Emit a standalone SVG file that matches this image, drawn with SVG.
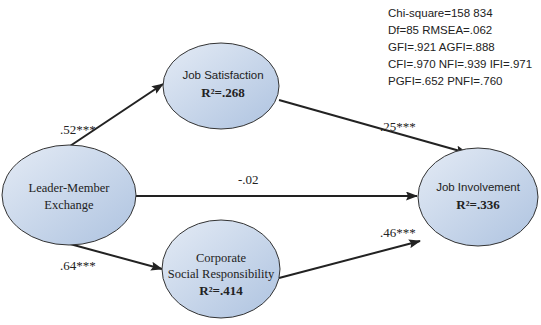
<svg xmlns="http://www.w3.org/2000/svg" width="541" height="325" viewBox="0 0 541 325">
<defs>
<linearGradient id="g" x1="0" y1="0" x2="1" y2="1">
<stop offset="0" stop-color="#e4ebf5"/>
<stop offset="1" stop-color="#aec3e0"/>
</linearGradient>
<marker id="ah" markerWidth="12" markerHeight="9" refX="11" refY="4.5" orient="auto" markerUnits="userSpaceOnUse">
<path d="M0,0 L12,4.5 L0,9 L2,4.5 Z" fill="#222"/>
</marker>
<style>
ellipse{fill:url(#g);stroke:#333;stroke-width:1}
.s{font-family:"Liberation Sans",Arial,sans-serif;font-size:11.5px;fill:#222}
.n{font-family:"Liberation Serif","Times New Roman",serif;font-size:12.5px;fill:#222;text-anchor:middle}
.ns{font-family:"Liberation Sans",Arial,sans-serif;font-size:11.5px;fill:#222;text-anchor:middle}
.r{font-family:"Liberation Serif","Times New Roman",serif;font-size:13px;font-weight:bold;fill:#222;text-anchor:middle}
.l{font-family:"Liberation Serif","Times New Roman",serif;font-size:13px;fill:#222}
.c{stroke:#222;stroke-width:2;fill:none;marker-end:url(#ah)}
</style>
</defs>
<rect width="541" height="325" fill="#fff"/>
<g id="connectors">
<line class="c" x1="70" y1="146" x2="163" y2="84"/>
<line class="c" x1="279" y1="100" x2="467" y2="153"/>
<line class="c" x1="136" y1="196" x2="417" y2="196"/>
<line class="c" x1="70" y1="244" x2="162" y2="269"/>
<line class="c" x1="279" y1="278" x2="420" y2="241"/>
<text class="l" x="60" y="134">.52***</text>
<text class="l" x="380" y="131">.25***</text>
<text class="l" x="238" y="184">-.02</text>
<text class="l" x="60" y="270">.64***</text>
<text class="l" x="380" y="237">.46***</text>
</g>
<g id="stats">
<text class="s" x="388" y="17">Chi-square=158 834</text>
<text class="s" x="388" y="34">Df=85 RMSEA=.062</text>
<text class="s" x="388" y="51">GFI=.921 AGFI=.888</text>
<text class="s" x="388" y="68">CFI=.970 NFI=.939 IFI=.971</text>
<text class="s" x="388" y="85">PGFI=.652 PNFI=.760</text>
</g>
<g id="lmx">
<ellipse cx="69" cy="195" rx="67" ry="50"/>
<text class="n" x="69" y="192">Leader-Member</text>
<text class="n" x="69" y="209">Exchange</text>
</g>
<g id="js">
<ellipse cx="221" cy="86" rx="58" ry="43"/>
<text class="ns" x="223" y="79">Job Satisfaction</text>
<text class="r" x="223" y="97">R²=.268</text>
</g>
<g id="csr">
<ellipse cx="221" cy="269" rx="59" ry="49"/>
<text class="n" x="221" y="262">Corporate</text>
<text class="n" x="221" y="278">Social Responsibility</text>
<text class="r" x="221" y="295">R²=.414</text>
</g>
<g id="ji">
<ellipse cx="478" cy="197" rx="60" ry="49"/>
<text class="ns" x="478" y="191">Job Involvement</text>
<text class="r" x="478" y="209">R²=.336</text>
</g>
</svg>
